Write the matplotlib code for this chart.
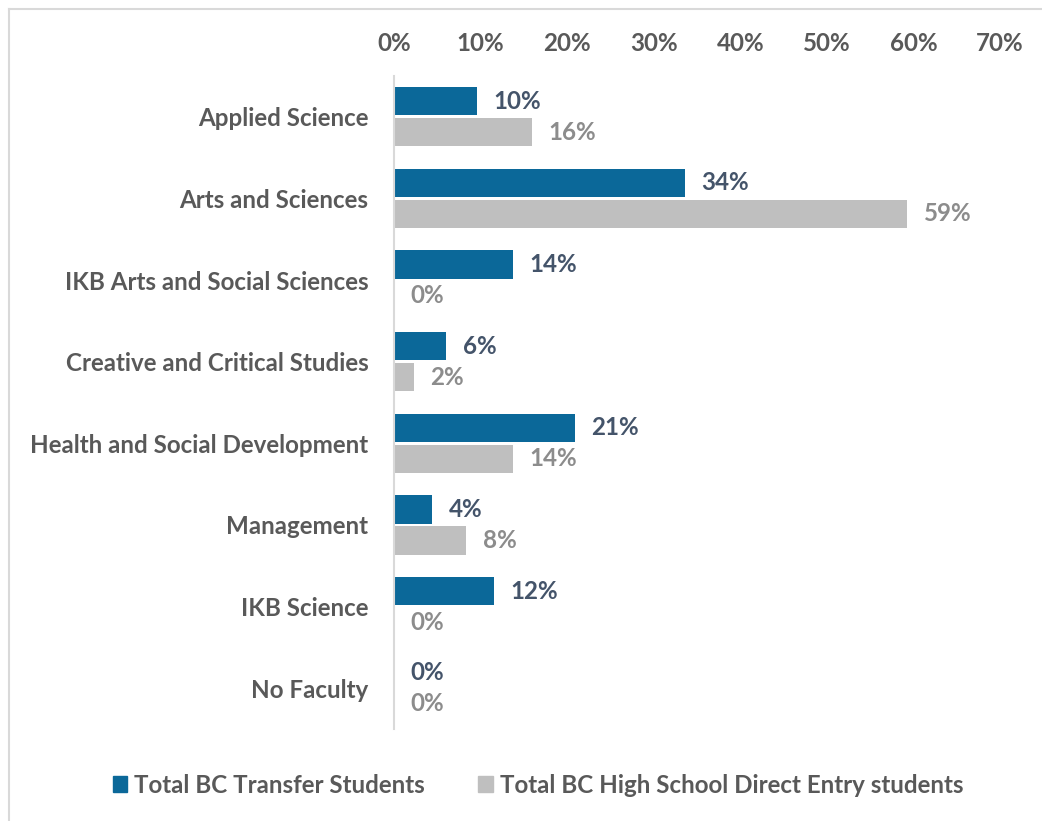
import matplotlib
matplotlib.use("Agg")
import matplotlib.pyplot as plt
from matplotlib.lines import Line2D
from matplotlib.patches import Patch
import numpy as np

categories = ["Applied Science", "Arts and Sciences", "IKB Arts and Social Sciences",
              "Creative and Critical Studies", "Health and Social Development",
              "Management", "IKB Science", "No Faculty"]
transfer = [9.6, 33.6, 13.7, 6.0, 20.9, 4.4, 11.5, 0.0]
direct = [15.9, 59.3, 0.0, 2.3, 13.7, 8.3, 0.0, 0.0]
series_names = ["Total BC Transfer Students", "Total BC High School Direct Entry students"]
xticks = [0, 10, 20, 30, 40, 50, 60, 70]

BLUE = "#0B6899"
GRAY = "#BFBFBF"
BLUE_TXT = "#44546A"
GRAY_TXT = "#8C8C8C"
TICK_TXT = "#595959"
FS = 17.4

plt.rcParams['font.family'] = ['Lato', 'DejaVu Sans']
plt.rcParams['font.weight'] = 'bold'

fig = plt.figure(figsize=(10.42, 8.21), dpi=100)
W, H = 1042, 821
ax = fig.add_axes([394 / W, 1 - 729 / H, (1000 - 394) / W, (729 - 76) / H])

y = np.arange(len(categories))
h = 0.345
off = 0.19
ax.barh(y - off, transfer, height=h, color=BLUE)
ax.barh(y + off, direct, height=h, color=GRAY)

for yi, v in zip(y, transfer):
    ax.annotate(f"{v:.0f}%", (v, yi - off), xytext=(12, 0), textcoords="offset points",
                va="center", ha="left", fontsize=FS, fontweight="bold", color=BLUE_TXT)
for yi, v in zip(y, direct):
    ax.annotate(f"{v:.0f}%", (v, yi + off), xytext=(12, 0), textcoords="offset points",
                va="center", ha="left", fontsize=FS, fontweight="bold", color=GRAY_TXT)

ax.set_xlim(0, 70)
ax.set_ylim(len(categories) - 0.5, -0.5)
ax.xaxis.tick_top()
ax.set_xticks(xticks)
ax.set_xticklabels([f"{t}%" for t in xticks], fontsize=FS, fontweight="bold", color=TICK_TXT)
ax.set_yticks(y)
ax.set_yticklabels(categories, fontsize=FS, fontweight="bold", color=TICK_TXT)
ax.tick_params(axis="both", length=0)
ax.tick_params(axis="x", pad=15)
ax.tick_params(axis="y", pad=18.5)
for s in ["top", "right", "bottom"]:
    ax.spines[s].set_visible(False)
ax.spines["left"].set_color("#D9D9D9")
ax.spines["left"].set_linewidth(1.5)

handles = [Patch(color=BLUE), Patch(color=GRAY)]
fig.legend(handles, series_names, loc="center", bbox_to_anchor=(538 / W, 1 - 785 / H),
           ncol=2, frameon=False, handlelength=0.6, handleheight=0.6,
           handletextpad=0.3, columnspacing=2.2, labelcolor=TICK_TXT,
           prop={"weight": "bold", "size": FS})

# figure border
fig.add_artist(Line2D([8.5 / W, 1], [1 - 9.5 / H, 1 - 9.5 / H], color="#D9D9D9", lw=1.5,
                      transform=fig.transFigure))
fig.add_artist(Line2D([8.5 / W, 8.5 / W], [0, 1 - 9.5 / H], color="#D9D9D9", lw=1.5,
                      transform=fig.transFigure))

fig.savefig("out.png", dpi=100, facecolor="white")
